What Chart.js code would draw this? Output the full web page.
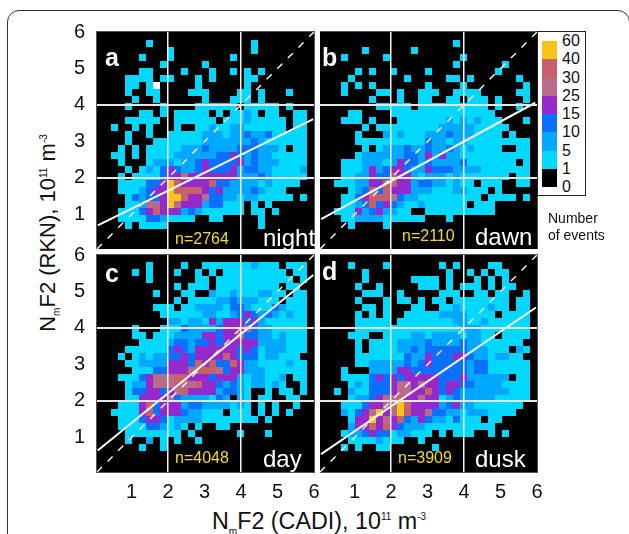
<!DOCTYPE html>
<html lang="en">
<head>
    <meta charset="UTF-8">
    <title>NmF2 RKN vs CADI</title>
    <script src="https://cdn.jsdelivr.net/npm/chart.js"></script>
    <style>
        html, body { margin: 0; padding: 0; background: #fff; }
        body { width: 629px; height: 534px; overflow: hidden; position: relative; font-family: 'Liberation Sans', Arial, sans-serif; color: #111; }
        canvas { position: absolute; }
        .frame { position: absolute; left: 7px; top: 10px; width: 621px; height: 600px; border: 1px solid #333; border-radius: 12px; }
        .txt { position: absolute; white-space: nowrap; line-height: 1; }
        .letter { font-weight: bold; font-size: 25px; color: #fff; }
        .period { font-size: 24px; color: #fff; }
        .count { font-size: 16px; color: #f5dc1e; }
        .title sub, .title sup { font-size: 10px; line-height: 0; }
        #ytitle { left: 48px; top: 233px; font-size: 22px; transform: translate(-50%, -50%) rotate(-90deg); }
        #xtitle { left: 212px; top: 510px; font-size: 23.3px; }
        #legend { position: absolute; left: 537px; top: 31px; width: 47px; height: 163px; border: 1px solid #222; background: #fff; }
        #legend i { position: absolute; left: 4px; width: 15px; height: 18.25px; }
        #legend span { position: absolute; left: 24px; font-size: 16px; line-height: 1; transform: translateY(-50%); }
    </style>
</head>
<body>
    <div class="frame"></div>
    <canvas id="panelA"></canvas>
    <canvas id="panelB"></canvas>
    <canvas id="panelC"></canvas>
    <canvas id="panelD"></canvas>
    <div id="labels"></div>
    <div id="legend"></div>
    <div class="txt" style="left:548px;top:210px;font-size:14px;line-height:17px">Number<br>of events</div>
    <div class="txt title" id="ytitle">N<sub>m</sub>F2 (RKN), 10<sup>11</sup> m<sup>-3</sup></div>
    <div class="txt title" id="xtitle">N<sub>m</sub>F2 (CADI), 10<sup>11</sup> m<sup>-3</sup></div>

    <script>
        // each row is one bin of RKN NmF2 from the top, each char a colour class read off the picture
        // . = 0, 1..7 = legend classes from the bottom, w = the odd white cell in panel a
        const nightRows = [
            "",
            ".......1..............1",
            "..........1...........1",
            "......1...1........1",
            ".........1.....1",
            "......11....1...1..1.1.1",
            "....1111.11...1.1....11",
            "....11.1w.....1......1",
            "....1..11....111....11.1...1",
            ".....1..1......1...111.1",
            "....1....1....111111.11111.1",
            "......11.1.11111.1.1121.11..11",
            "....11111..111111.111211111.11",
            "..1..1.1...1..1121122111111.11",
            "....1..1..11111222122322311111",
            "....1...1111111222222232111111",
            "...1.1.11111222322223332221.11",
            "..11.1.11112222223343232211111",
            "...1...12221223433334232221111",
            "....1.121343223433342332211112",
            "...1.1111344544444442223211111",
            "...11113347644446332222121111",
            "...111234476666434222232111",
            "....132334776445332212211111.1",
            "....11255475444233111.1.1",
            "...111346444232111111.11.1",
            "...11113321111..11.....1",
            "....1.1111.............1"
        ];
        const dawnRows = [
            "",
            "...................1",
            "......1......1",
            "...1.....1..........1",
            "...................1......1",
            ".....1.1..1....1.........1",
            "....1.......1.....11.1......1",
            "...1.1.1.......1....1........1",
            "...1....11.1..111..1111.....11",
            ".......1...1..11..11.111.1...1",
            "........11111.1111111111.1..1",
            "....11....111111111111111",
            "...111.1...111111121212111...1",
            "......1.1111111112222211111",
            ".....1...21211122232221111.1",
            ".....1111111111322122111111111",
            "......1.122232232232121111..11",
            ".....1222222332424221111111111",
            "...1112221243323222231111111.1",
            "...111242344322433322221111111",
            "...112243364421222121111111.11",
            "..11122446644233221211.111..11",
            "....12363644422211122111.1",
            "...11346665322111111111.1111.1",
            "...112363432112111111.111",
            "..11142342211..1111111111",
            "...112222111111...1",
            "....1....1"
        ];
        const dayRows = [
            "",
            ".......1....1..11111112111.111",
            ".....1.1...1..1.1.111111111.11",
            ".......1......11.11111111111.1",
            "...........1.111.111111111.11",
            "........1...11..21121112211.11",
            "...........1.1111223222111.111",
            "........111.112222133211132111",
            ".........111111221123432321211",
            "..........22122142444342111111",
            ".....1...111322223444532211111",
            ".....11.1112222443446332212111",
            "......111123323343444442222111",
            "....11111134324444443431222111",
            "...1.121223343444464333122111",
            "....11222244436463364221111211",
            ".....1113344456665344222111111",
            "...111345556644434442122112.11",
            "....12245556556443232122121..1",
            "....133443456444423321..1.11.1",
            "....114444532222132.21.11..11",
            "...1114634442332222121.1.1..1",
            "..1111463444322111.111.1.1.1",
            "...11134431222211111111.1",
            "...1111332121.1..11",
            "....11111111.1......1...1",
            "....1..2.1.1..1",
            "......1..1"
        ];
        const duskRows = [
            "",
            "....1....1.......1.1....11",
            "......1...........1..1.1.11",
            "......1......1111.1...1.1.1",
            ".....1..1.....111.1.111.1.11",
            "......111..1.....111..11.11..1",
            ".....1...1.11.1.11.11111111.11",
            "......11.1...11..1121111211.11",
            ".....1.1.1..1111122221111.1111",
            ".....11111.1111111122112111111",
            ".....1111111111111112221111111",
            "....111..1111221222212211.1111",
            ".....1.1111222232222322111111",
            ".....1.11112232333333222111.21",
            ".....111111132243334432212211",
            ".....1122222323433333233111111",
            "...1...22224433333333233111111",
            "...111134343444443334222222.11",
            "....12133345545443443322221111",
            "..1.21133345544643432222222111",
            "....12234556445441232222211111",
            "...11134456764444234221111111",
            "...2134574576445332212221111",
            "....1447454632432213111.11",
            "....244646432221111111111",
            "...1223433122111.1.111..1.1",
            "....11112111..1",
            "...1.1..11......1"
        ];

        // regression lines, ends
        const nightFit = [[0.07, 0.70], [5.98, 3.61]];
        const dawnFit = [[0.08, 0.87], [5.95, 4.06]];
        const dayFit = [[0.07, 0.64], [5.98, 5.45]];
        const duskFit = [[0.08, 0.54], [5.97, 4.56]];

        const tickValues = [1, 2, 3, 4, 5, 6];
        const gridValues = [2, 4];
        const legendLabels = ['60', '40', '30', '25', '15', '10', '5', '1', '0'];
        const classKeys = ['7', '6', '5', '4', '3', '2', '1', '0'];
        const classColors = ['#f5c518', '#c8606a', '#b96c8a', '#9529cc', '#0a70ff', '#00a8ff', '#00d8ff', '#000000'];

        const axisMin = 0.05, axisMax = 6, nBins = 31, cellPx = 7;
        const binWidth = (axisMax - axisMin) / nBins;

        function pointsFor(rows, key, rowShift) {
            const pts = [];
            rows.forEach((row, r) => {
                for (let k = 0; k < row.length; k++) {
                    if (row[k] === key) {
                        pts.push({
                            x: axisMin + (k + 0.5) * binWidth,
                            y: axisMax - (r + 0.5) * binWidth - rowShift
                        });
                    }
                }
            });
            return pts;
        }

        function axisOptions(showLabels, isX, size) {
            return {
                type: 'linear',
                min: axisMin,
                max: axisMax,
                afterBuildTicks: axis => { axis.ticks = tickValues.map(v => ({ value: v })); },
                afterFit: axis => {
                    if (isX) axis.height = size; else axis.width = size;
                    axis.paddingLeft = axis.paddingRight = axis.paddingTop = axis.paddingBottom = 0;
                },
                border: { display: false },
                grid: {
                    z: 1,
                    drawTicks: false,
                    color: c => gridValues.includes(c.tick.value) ? (isX ? '#f4f4f4' : '#e6e6e6') : 'rgba(0,0,0,0)',
                    lineWidth: isX ? 1.5 : 2
                },
                ticks: {
                    display: showLabels,
                    color: '#111',
                    padding: isX ? 8 : 12,
                    maxRotation: 0,
                    font: { family: "'Liberation Sans'", size: 20 },
                    callback: v => String(v)
                }
            };
        }

        // black plot area and grey frame
        const panelFrame = {
            id: 'panelFrame',
            beforeDatasetsDraw(chart) {
                const a = chart.chartArea, c = chart.ctx;
                c.save();
                c.fillStyle = '#000';
                c.fillRect(a.left, a.top, a.right - a.left, a.bottom - a.top);
                c.restore();
            },
            afterDraw(chart) {
                const a = chart.chartArea, c = chart.ctx;
                c.save();
                c.strokeStyle = '#555';
                c.lineWidth = 1;
                c.strokeRect(a.left - 0.5, a.top - 0.5, a.right - a.left + 1, a.bottom - a.top + 1);
                c.restore();
            }
        };

        function drawPanel(id, rows, fit, rowShift, left, top, hasY, hasX) {
            const axisW = hasY ? 34 : 0, axisH = hasX ? 34 : 0, padTop = 12, padRight = 10;
            const canvas = document.getElementById(id);
            canvas.width = axisW + 217 + padRight;
            canvas.height = padTop + 217 + axisH;
            canvas.style.left = (left - axisW) + 'px';
            canvas.style.top = (top - padTop) + 'px';

            const cells = classKeys.slice(0, 7).map((key, i) => ({
                data: pointsFor(rows, key, rowShift),
                pointStyle: 'rect',
                pointRadius: cellPx / Math.SQRT2,
                pointBorderWidth: 0,
                pointBackgroundColor: classColors[i],
                showLine: false,
                order: 5
            }));
            cells.push({
                data: pointsFor(rows, 'w', rowShift),
                pointStyle: 'rect',
                pointRadius: cellPx / Math.SQRT2,
                pointBorderWidth: 0,
                pointBackgroundColor: '#fff',
                showLine: false,
                order: 5
            });

            new Chart(canvas, {
                type: 'scatter',
                data: {
                    datasets: cells.concat([
                        {
                            data: [{ x: 0.05, y: 0.05 }, { x: 6, y: 6 }],
                            showLine: true,
                            borderColor: '#fff',
                            borderWidth: 1.4,
                            borderDash: [7, 8],
                            pointRadius: 0,
                            order: 2
                        },
                        {
                            data: fit.map(p => ({ x: p[0], y: p[1] })),
                            showLine: true,
                            borderColor: '#fff',
                            borderWidth: 2,
                            pointRadius: 0,
                            order: 1
                        }
                    ])
                },
                options: {
                    responsive: false,
                    animation: false,
                    layout: { autoPadding: false, padding: { top: padTop, right: padRight, left: 0, bottom: 0 } },
                    plugins: { legend: { display: false }, tooltip: { enabled: false } },
                    scales: {
                        x: axisOptions(hasX, true, axisH),
                        y: axisOptions(hasY, false, axisW)
                    }
                },
                plugins: [panelFrame]
            });
        }

        const shiftAB = binWidth / cellPx;
        drawPanel('panelA', nightRows, nightFit, shiftAB, 97, 32, true, false);
        drawPanel('panelB', dawnRows, dawnFit, shiftAB, 320, 32, false, false);
        drawPanel('panelC', dayRows, dayFit, 0, 97, 255, true, true);
        drawPanel('panelD', duskRows, duskFit, 0, 320, 255, false, true);

        // panel annotations
        const annotations = [
            ['letter', 'a', 105, 45], ['letter', 'b', 322, 45], ['letter', 'c', 105, 261], ['letter', 'd', 322, 259],
            ['period', 'night', 263, 226], ['period', 'dawn', 475, 225], ['period', 'day', 263, 447], ['period', 'dusk', 475, 447],
            ['count', 'n=2764', 175, 231], ['count', 'n=2110', 402, 228], ['count', 'n=4048', 175, 450], ['count', 'n=3909', 398, 450]
        ];
        const labelBox = document.getElementById('labels');
        annotations.forEach(a => {
            const el = document.createElement('div');
            el.className = 'txt ' + a[0];
            el.textContent = a[1];
            el.style.left = a[2] + 'px';
            el.style.top = a[3] + 'px';
            labelBox.appendChild(el);
        });

        // colour key
        const legend = document.getElementById('legend');
        classColors.forEach((col, i) => {
            const sw = document.createElement('i');
            sw.style.background = col;
            sw.style.top = (9 + i * 18.25) + 'px';
            legend.appendChild(sw);
        });
        legendLabels.forEach((lab, i) => {
            const s = document.createElement('span');
            s.textContent = lab;
            s.style.top = (9 + i * 18.25) + 'px';
            legend.appendChild(s);
        });
    </script>
</body>
</html>
